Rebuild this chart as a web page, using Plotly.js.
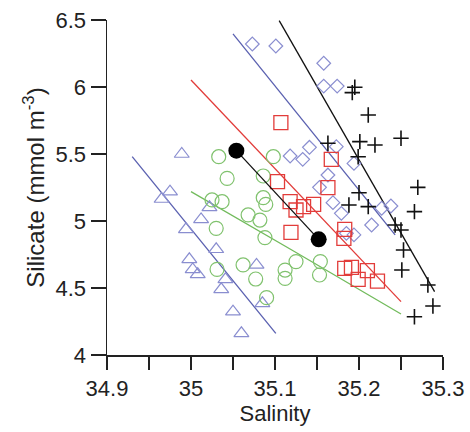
<!DOCTYPE html>
<html><head><meta charset="utf-8">
<script src="https://cdn.plot.ly/plotly-3.0.1.min.js"></script>
<style>body{margin:0;background:#fff}</style>
</head><body>
<div id="chart" style="width:470px;height:432px"></div>
<script>
// Triangles (blue)
const triSal = [34.989,34.975,34.965,35.012,35.022,34.994,35.030,34.998,35.002,35.008,35.041,35.036,35.050,35.060,35.078,35.085];
const triSil = [5.500,5.219,5.164,5.012,5.102,4.938,4.789,4.714,4.639,4.602,4.565,4.490,4.323,4.162,4.672,4.386];
// Diamonds (blue)
const diaSal = [35.073,35.101,35.158,35.158,35.174,35.118,35.133,35.141,35.173,35.194,35.163,35.153,35.169,35.179,35.185,35.194,35.215,35.227,35.238];
const diaSil = [6.321,6.306,6.177,6.007,6.007,5.485,5.460,5.550,5.555,5.430,5.343,5.251,5.137,5.057,4.908,4.896,4.970,5.095,5.112];
// Squares (red)
const sqSal = [35.107,35.167,35.103,35.163,35.118,35.125,35.134,35.146,35.119,35.183,35.182,35.183,35.191,35.199,35.210,35.222];
const sqSil = [5.734,5.460,5.294,5.249,5.144,5.082,5.107,5.124,4.915,4.938,4.871,4.647,4.654,4.565,4.629,4.552];
// Circles (green)
const cirSal = [35.033,35.043,35.025,35.037,35.030,35.068,35.082,35.086,35.089,35.088,35.098,35.086,35.031,35.062,35.077,35.090,35.112,35.112,35.125,35.154,35.153];
const cirSil = [5.480,5.318,5.157,5.144,4.945,5.045,5.007,5.174,5.124,4.876,5.480,5.336,4.639,4.672,4.567,4.428,4.634,4.572,4.697,4.697,4.597];
// Crosses (black)
const plusSal = [35.195,35.192,35.211,35.250,35.163,35.201,35.219,35.199,35.270,35.200,35.188,35.211,35.266,35.243,35.250,35.253,35.251,35.282,35.288,35.266];
const plusSil = [5.998,5.958,5.791,5.617,5.580,5.592,5.567,5.480,5.251,5.211,5.119,5.107,5.070,4.970,4.933,4.784,4.634,4.522,4.366,4.286];
// Means (filled black)
const meanSal = [35.054,35.152];
const meanSil = [5.525,4.863];
// Fit lines
const fitBlueLowSal = [34.930,35.101], fitBlueLowSil = [5.480,4.162];
const fitGreenSal = [35.000,35.120,35.250], fitGreenSil = [5.219,4.784,4.306];
const fitRedSal = [35.000,35.250], fitRedSil = [6.052,4.398];
const fitBlueUpSal = [35.050,35.243], fitBlueUpSil = [6.396,4.896];
const fitBlackSal = [35.105,35.290], fitBlackSil = [6.495,4.473];

const xTickVals = [34.9,35.0,35.1,35.2,35.3];
const xTickText = ['34.9','35','35.1','35.2','35.3'];
const yTickVals = [4,4.5,5,5.5,6,6.5];
const yTickText = ['4','4.5','5','5.5','6','6.5'];

const BLUE_M = '#8a8ed0', BLUE_L = '#5a60b0', GREEN_M = '#80c26e', GREEN_L = '#72bb5c', RED = '#e23c3a';

function mk(x,y,symbol,size,color,w){
  return {x:x,y:y,type:'scatter',mode:'markers',cliponaxis:false,
    marker:{symbol:symbol,size:size,color:color,line:{color:color,width:w}}};
}
function ln(x,y,color){
  return {x:x,y:y,type:'scatter',mode:'lines',line:{color:color,width:1.3}};
}
const data = [
  ln(fitBlueLowSal,fitBlueLowSil,BLUE_L),
  ln(fitGreenSal,fitGreenSil,GREEN_L),
  ln(fitRedSal,fitRedSil,RED),
  ln(fitBlueUpSal,fitBlueUpSil,BLUE_L),
  ln(fitBlackSal,fitBlackSil,'#111'),
  mk(triSal,triSil,'triangle-up-open',13,BLUE_M,1.2),
  mk(cirSal,cirSil,'circle-open',14,GREEN_M,1.2),
  mk(diaSal,diaSil,'diamond-open',10.5,BLUE_M,1.2),
  mk(sqSal,sqSil,'square-open',14,RED,1.3),
  mk(plusSal,plusSil,'cross-thin-open',11,'#111',1.6),
  {x:meanSal,y:meanSil,type:'scatter',mode:'lines+markers',cliponaxis:false,
   line:{color:'#111',width:1.3},marker:{symbol:'circle',size:16,color:'#000'}}
];
const font = {family:'"Liberation Sans", Arial, sans-serif', size:22, color:'#222'};
const tfont = {family:'"Liberation Sans", Arial, sans-serif', size:24, color:'#222'};
const layout = {
  width:470,height:432,showlegend:false,
  margin:{l:107,r:27,t:20,b:77},
  paper_bgcolor:'#fff',plot_bgcolor:'#fff',
  font:font,
  xaxis:{range:[34.9,35.3],tickmode:'array',tickvals:xTickVals,ticktext:xTickText,
    ticks:'outside',ticklen:13,tickwidth:1.5,tickcolor:'#222',
    minor:{ticks:'outside',ticklen:13,tickwidth:1.5,tickcolor:'#222',tick0:34.9,dtick:0.05,showgrid:false},
    showline:true,linecolor:'#222',linewidth:1.5,showgrid:false,zeroline:false,
    tickfont:font,title:{text:'Salinity',font:font,standoff:2}},
  yaxis:{range:[4,6.5],tickmode:'array',tickvals:yTickVals,ticktext:yTickText,
    ticks:'outside',ticklen:15,tickwidth:1.5,tickcolor:'#222',
    showline:true,linecolor:'#222',linewidth:1.5,showgrid:false,zeroline:false,
    tickfont:font,title:{text:'Silicate (mmol m<sup>-3</sup>)',font:tfont,standoff:4}}
};
Plotly.newPlot('chart',data,layout,{staticPlot:true,displayModeBar:false});
</script>
</body></html>
